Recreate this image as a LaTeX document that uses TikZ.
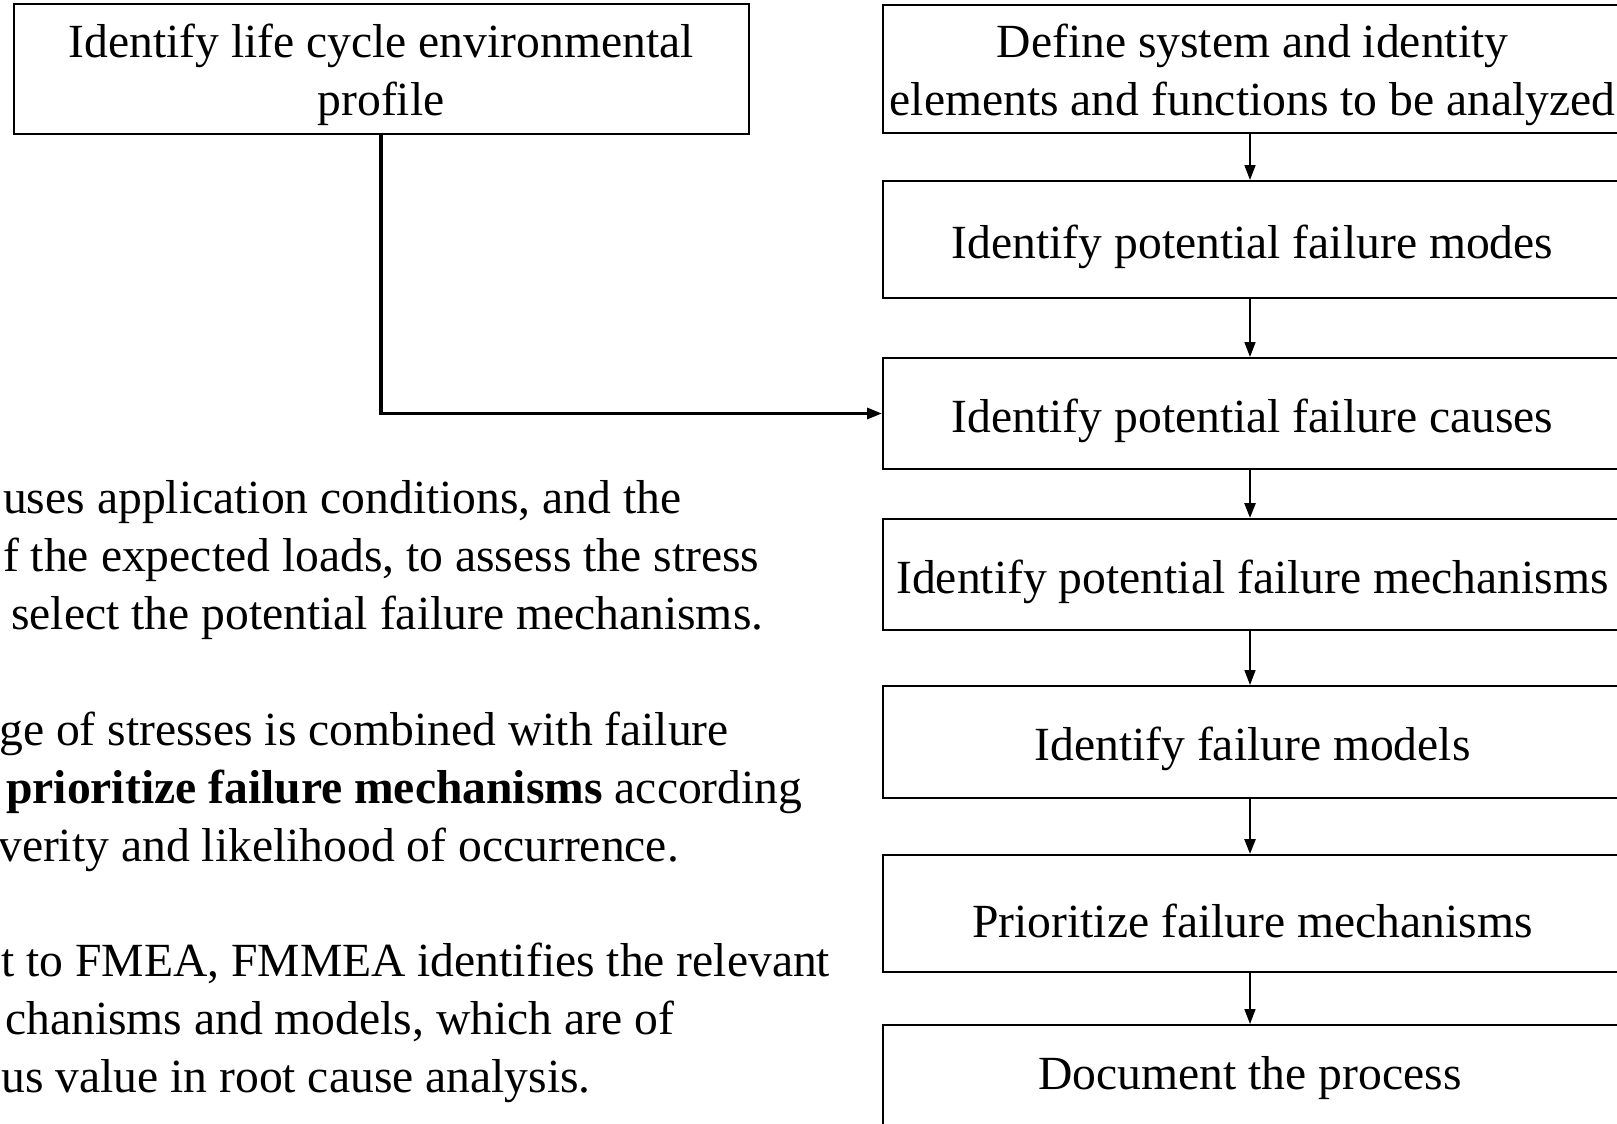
\documentclass[tikz,border=0pt]{standalone}
\usepackage{fontspec}
\setmainfont{Liberation Serif}
\usetikzlibrary{arrows.meta}
\tikzset{
  boxnode/.style={draw=black, line width=2pt, rectangle, inner sep=0pt},
  boxtext/.style={inner sep=0pt, align=center, font=\fontsize{47.6}{58}\selectfont},
  txtline/.style={anchor=base west, inner sep=0pt, font=\fontsize{47.6}{58}\selectfont},
  flow/.style={line width=1.6pt, -{Triangle[length=15pt,width=11pt]}},
  flowthick/.style={line width=2.6pt, -{Triangle[length=15pt,width=11pt]}},
  feed/.style={line width=3.2pt, -{Triangle[length=15pt,width=11pt]}}
}
\begin{document}
\begin{tikzpicture}[x=1pt,y=-1pt]
\useasboundingbox[fill=white] (0,0) rectangle (1617,1124);
% left box
\node[boxnode, minimum width=735pt, minimum height=130pt] (life) at (381,69) {};
\node[boxtext] (lifet) at ([yshift=-6pt]life.center) {Identify life cycle environmental\\profile};
% right column boxes
\node[boxnode, minimum width=739pt, minimum height=128pt] (b1) at (1252.5,69) {};
\node[boxnode, minimum width=739pt, minimum height=117pt] (b2) at (1252.5,239.5) {};
\node[boxnode, minimum width=739pt, minimum height=111pt] (b3) at (1252.5,413.5) {};
\node[boxnode, minimum width=739pt, minimum height=111pt] (b4) at (1252.5,574.5) {};
\node[boxnode, minimum width=739pt, minimum height=112pt] (b5) at (1252.5,742) {};
\node[boxnode, minimum width=739pt, minimum height=117pt] (b6) at (1252.5,913.5) {};
\node[boxnode, minimum width=739pt, minimum height=170pt] (b7) at (1252.5,1110) {};
% box texts
\node[boxtext] (t1) at ([yshift=-6pt]b1.center) {Define system and identity\\elements and functions to be analyzed};
\node[boxtext] (t2) at ([yshift=-7pt]b2.center) {Identify potential failure modes};
\node[boxtext] (t3) at ([yshift=-7pt]b3.center) {Identify potential failure causes};
\node[boxtext] (t4) at ([yshift=-7pt]b4.center) {Identify potential failure mechanisms};
\node[boxtext] (t5) at ([yshift=-7pt]b5.center) {Identify failure models};
\node[boxtext] (t6) at ([yshift=-7pt]b6.center) {Prioritize failure mechanisms};
\node[boxtext] (t7) at (1250,1078) {Document the process};
% arrows
\draw[flow] (1250,0 |- b1.south) -- (1250,0 |- b2.north);
\draw[flow] (1250,0 |- b2.south) -- (1250,0 |- b3.north);
\draw[flowthick] (1250,0 |- b3.south) -- (1250,0 |- b4.north);
\draw[flow] (1250,0 |- b4.south) -- (1250,0 |- b5.north);
\draw[flowthick] (1250,0 |- b5.south) -- (1250,0 |- b6.north);
\draw[flow] (1250,0 |- b6.south) -- (1250,0 |- b7.north);
\draw[feed] (life.south) |- (b3.west);
% left text
\node[txtline] (p1a) at (3,513) {uses application conditions, and the};
\node[txtline] (p1b) at (3,571) {f the expected loads, to assess the stress};
\node[txtline] (p1c) at (11,629) {select the potential failure mechanisms.};
\node[txtline] (p2a) at (-1,745) {ge of stresses is combined with failure};
\node[txtline] (p2b) at (6,803) {\textbf{prioritize failure mechanisms} according};
\node[txtline] (p2c) at (-2,861) {verity and likelihood of occurrence.};
\node[txtline] (p3a) at (1,976) {t to FMEA, FMMEA identifies the relevant};
\node[txtline] (p3b) at (5,1034) {chanisms and models, which are of};
\node[txtline] (p3c) at (1,1092) {us value in root cause analysis.};
\end{tikzpicture}
\end{document}
